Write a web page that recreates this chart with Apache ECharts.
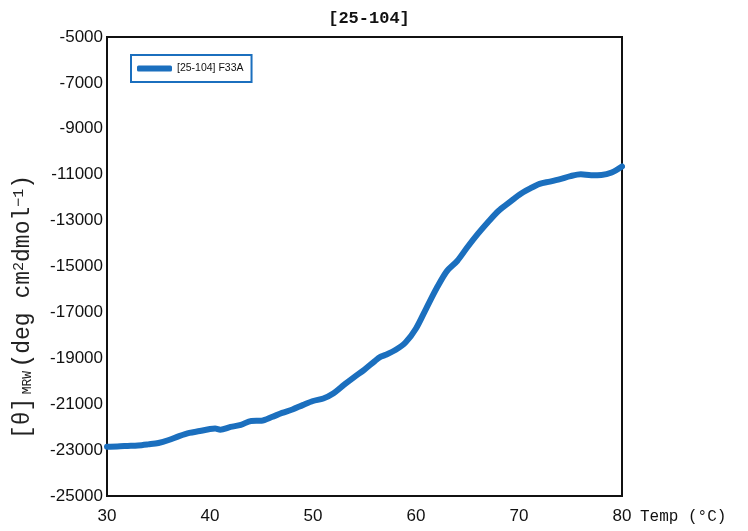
<!DOCTYPE html>
<html>
<head>
<meta charset="utf-8">
<title>[25-104]</title>
<script src="https://cdn.jsdelivr.net/npm/echarts@6/dist/echarts.min.js"></script>
<style>
  html, body { margin: 0; padding: 0; background: #ffffff; }
  #chart { width: 748px; height: 531px; }
</style>
</head>
<body>
<div id="chart"></div>
<script>
// Thermal melt of [25-104] F33A: mean residue ellipticity vs temperature
const temperatures = [30, 31, 32, 33, 34, 35, 36, 37, 38, 39, 40, 40.5, 41, 42, 43, 44, 45, 46, 47, 48, 49, 50, 51, 52, 53, 54, 55, 56, 56.5, 57, 58, 59, 60, 61, 62, 63, 64, 65, 66, 67, 68, 69, 70, 71, 72, 73, 74, 75, 76, 77, 78, 79, 80];
const ellipticityF33A = [-22850, -22840, -22820, -22800, -22750, -22690, -22560, -22390, -22250, -22170, -22080, -22060, -22110, -21990, -21900, -21730, -21720, -21560, -21380, -21230, -21040, -20860, -20750, -20520, -20160, -19820, -19490, -19120, -18950, -18860, -18640, -18300, -17700, -16820, -15950, -15200, -14760, -14150, -13580, -13060, -12580, -12230, -11880, -11620, -11400, -11300, -11190, -11060, -10980, -11020, -11010, -10900, -10640];
const seriesName = '[25-104] F33A';
const yTickLabels = [-25000, -23000, -21000, -19000, -17000, -15000, -13000, -11000, -9000, -7000, -5000];
const xTickLabels = [30, 40, 50, 60, 70, 80];

const lineColor = '#1b6fbe';
const points = temperatures.map((t, i) => [t, ellipticityF33A[i]]);

const chart = echarts.init(document.getElementById('chart'), null, { renderer: 'canvas' });
chart.setOption({
  backgroundColor: '#ffffff',
  animation: false,
  title: {
    text: '[25-104]',
    left: 364,
    textAlign: 'center',
    top: 5,
    textStyle: { fontFamily: 'Liberation Mono', fontWeight: 'bold', fontSize: 17, color: '#111' }
  },
  legend: {
    left: 131,
    top: 55,
    orient: 'vertical',
    borderColor: lineColor,
    borderWidth: 2,
    borderRadius: 0,
    padding: [8, 8, 8, 6],
    itemWidth: 35,
    itemHeight: 6,
    itemGap: 0,
    icon: 'roundRect',
    textStyle: { fontFamily: 'Liberation Sans', fontSize: 10.5, color: '#111', padding: [0, 0, 0, 0] },
    data: [seriesName]
  },
  grid: {
    left: 107,
    right: 126,
    top: 37,
    bottom: 35,
    show: true,
    borderColor: '#111',
    borderWidth: 2,
    backgroundColor: 'transparent'
  },
  xAxis: {
    type: 'value',
    min: 30,
    max: 80,
    interval: 10,
    name: 'Temp (°C)',
    nameLocation: 'end',
    nameGap: 18,
    nameTextStyle: {
      fontFamily: 'Liberation Mono', fontSize: 16, color: '#111',
      align: 'left', verticalAlign: 'top', padding: [13, 0, 0, 0]
    },
    axisLine: { show: true, lineStyle: { color: '#111', width: 2 } },
    axisTick: { show: false },
    splitLine: { show: false },
    axisLabel: {
      margin: 12,
      fontFamily: 'Liberation Sans', fontSize: 17, color: '#111',
      formatter: v => (xTickLabels.includes(v) ? String(v) : '')
    }
  },
  yAxis: {
    type: 'value',
    min: -25000,
    max: -5000,
    interval: 1000,
    axisLine: { show: true, lineStyle: { color: '#111', width: 2 } },
    axisTick: { show: false },
    splitLine: { show: false },
    axisLabel: {
      margin: 4,
      fontFamily: 'Liberation Sans', fontSize: 17, color: '#111',
      formatter: v => (yTickLabels.includes(v) ? String(v) : '')
    }
  },
  graphic: [{
    type: 'text',
    x: 23,
    y: 307,
    rotation: Math.PI / 2,
    style: {
      text: '{a|[θ]} {s|MRW} {a|(deg cm}{p|2}{a|dmol}{p|−1}{a|)}',
      align: 'center',
      verticalAlign: 'middle',
      fill: '#222',
      rich: {
        a: { fontFamily: 'Liberation Mono', fontSize: 23, fill: '#222' },
        s: { fontFamily: 'Liberation Mono', fontSize: 13, fill: '#222', verticalAlign: 'bottom', padding: [5, 0, 0, 0] },
        p: { fontFamily: 'Liberation Mono', fontSize: 15, fill: '#222', verticalAlign: 'top', padding: [0, 0, 8, 0] }
      }
    }
  }],
  series: [{
    name: seriesName,
    type: 'line',
    data: points,
    showSymbol: false,
    symbol: 'none',
    smooth: 0.3,
    color: lineColor,
    lineStyle: { color: lineColor, width: 6, cap: 'round', join: 'round' },
    itemStyle: { color: lineColor }
  }]
});
</script>
</body>
</html>
